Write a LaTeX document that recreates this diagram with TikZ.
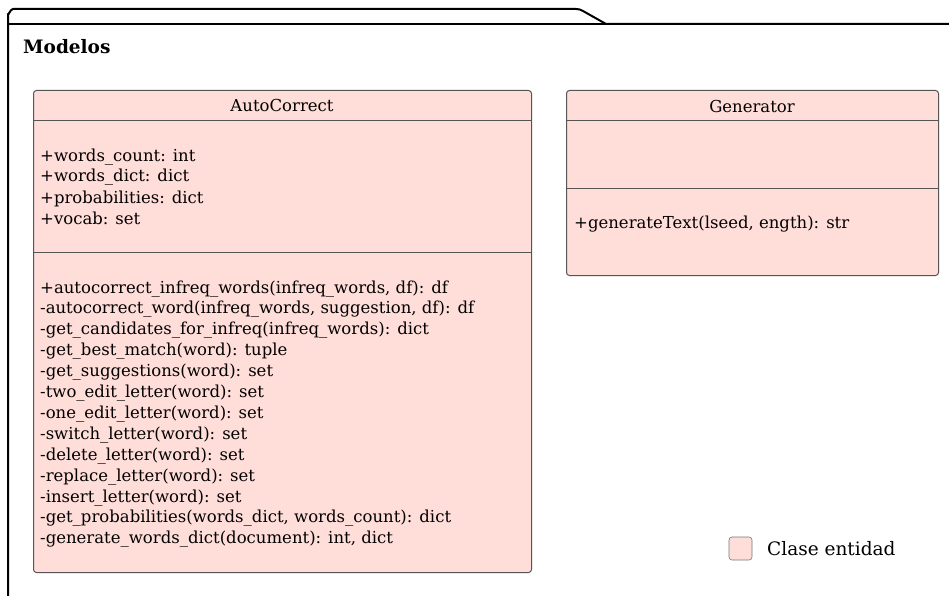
\documentclass[tikz,border=0pt]{standalone}
\usepackage{fontspec}
\setmainfont{DejaVu Serif}
\definecolor{entity}{HTML}{FFDEDA}
\definecolor{edge}{HTML}{555555}
\begin{document}
\begin{tikzpicture}[x=1pt,y=-1pt,
  classbox/.style={draw=edge, line width=1pt, fill=entity, rounded corners=3pt,
    anchor=north west, inner sep=0pt},
  divider/.style={draw=edge, line width=1pt},
  member/.style={anchor=base west, inner sep=0pt, font=\fontsize{16.5}{20}\selectfont},
  classname/.style={inner sep=0pt, font=\fontsize{16.5}{20}\selectfont},
  frame/.style={line width=2pt, line join=round, line cap=round}]
\useasboundingbox (0,0) rectangle (949,596);
\fill[white] (0,0) rectangle (949,596);

% package frame with its tab
\draw[frame] (8,600) -- (8,14) to[out=-90,in=180] (13,9) -- (576,9)
  to[out=0,in=150] (583,11) -- (606,24) -- (952,24);
\draw[frame] (8,24) -- (606,24);
\node[anchor=base west, inner sep=0pt, font=\bfseries\fontsize{18.5}{22}\selectfont] (pkg) at (23,54) {Modelos};

% AutoCorrect class
\node[classbox, minimum width=498pt, minimum height=482pt] (ac) at (33,90) {};
\draw[divider] (33,121) -- (531,121);
\draw[divider] (33,252) -- (531,252);
\node[classname] (acname) at (282,105) {AutoCorrect};
\foreach \txt [count=\i from 0] in {%
  {+words\_count: int},
  {+words\_dict: dict},
  {+probabilities: dict},
  {+vocab: set}}
  \node[member] (acattr\i) at (40,161+21*\i) {\txt};
\foreach \txt [count=\i from 0] in {%
  {+autocorrect\_infreq\_words(infreq\_words, df): df},
  {-autocorrect\_word(infreq\_words, suggestion, df): df},
  {-get\_candidates\_for\_infreq(infreq\_words): dict},
  {-get\_best\_match(word): tuple},
  {-get\_suggestions(word): set},
  {-two\_edit\_letter(word): set},
  {-one\_edit\_letter(word): set},
  {-switch\_letter(word): set},
  {-delete\_letter(word): set},
  {-replace\_letter(word): set},
  {-insert\_letter(word): set},
  {-get\_probabilities(words\_dict, words\_count): dict},
  {-generate\_words\_dict(document): int, dict}}
  \node[member] (acop\i) at (40,293+20.9*\i) {\txt};

% Generator class
\node[classbox, minimum width=372pt, minimum height=185pt] (gen) at (566,90) {};
\draw[divider] (566,121) -- (938,121);
\draw[divider] (566,188) -- (938,188);
\node[classname] (genname) at (752,106) {Generator};
\node[member] (genop0) at (574,228) {+generateText(lseed, ength): str};

% legend
\node[draw=edge!80, line width=0.6pt, fill=entity, rounded corners=3pt,
  minimum size=23pt, inner sep=0pt] (legbox) at (740.5,548.5) {};
\node[anchor=west, inner sep=0pt, font=\fontsize{18.5}{22}\selectfont] (legtext) at (767,549) {Clase entidad};
\end{tikzpicture}
\end{document}
